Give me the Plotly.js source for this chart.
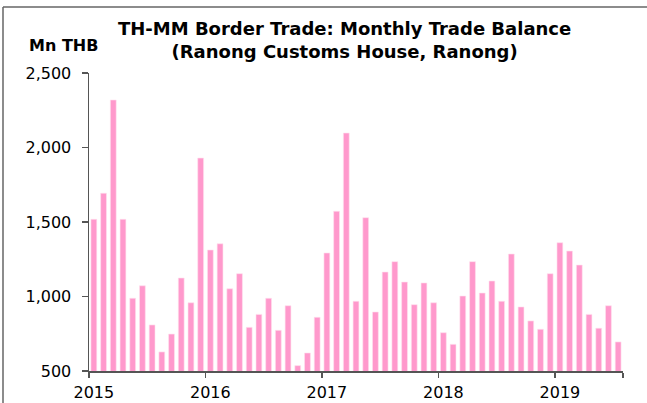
<!DOCTYPE html>
<html>
<head>
<meta charset="utf-8">
<script src="https://cdn.plot.ly/plotly-3.0.1.min.js"></script>
<style>
html,body{margin:0;padding:0;background:#fff;}
#chart{width:647px;height:403px;}
</style>
</head>
<body>
<div id="chart"></div>
<script>
// Months Jan 2015 .. Jul 2019
var months = [
 "2015-01","2015-02","2015-03","2015-04","2015-05","2015-06","2015-07","2015-08","2015-09","2015-10","2015-11","2015-12",
 "2016-01","2016-02","2016-03","2016-04","2016-05","2016-06","2016-07","2016-08","2016-09","2016-10","2016-11","2016-12",
 "2017-01","2017-02","2017-03","2017-04","2017-05","2017-06","2017-07","2017-08","2017-09","2017-10","2017-11","2017-12",
 "2018-01","2018-02","2018-03","2018-04","2018-05","2018-06","2018-07","2018-08","2018-09","2018-10","2018-11","2018-12",
 "2019-01","2019-02","2019-03","2019-04","2019-05","2019-06","2019-07"
];
// Trade balance, Mn THB
var balance = [
 1518,1693,2319,1518,988,1072,809,628,748,1124,958,1929,
 1312,1354,1052,1153,793,880,988,773,938,536,621,860,
 1292,1572,2097,968,1529,896,1164,1234,1097,945,1091,958,
 757,679,1003,1234,1023,1104,968,1285,930,836,780,1153,
 1361,1305,1211,880,787,938,695
];
var yearLabels = ["2015","2016","2017","2018","2019"];
var yTicks = [500,1000,1500,2000,2500];

var idx = months.map(function(_, i){ return i; });
var labelPos = [], boundaryPos = [];
months.forEach(function(m, i){
  if (m.slice(5) === "01") { labelPos.push(i); boundaryPos.push(i - 0.5); }
});
boundaryPos.push(months.length - 0.5);

var axisColor = "#555555";
var font = "'DejaVu Sans', Arial, sans-serif";

var trace = {
  type: "bar",
  x: idx,
  y: balance,
  marker: {color: "#FF99CC", line: {color: "#FFE0EF", width: 0.6}},
  hoverinfo: "skip"
};

var L = 89, R = 24, T = 73, B = 32, W = 647, H = 403;
var pw = W - L - R, ph = H - T - B;
function px2x(p){ return (p - L) / pw; }
function py2y(p){ return (H - B - p) / ph; }

var layout = {
  width: W, height: H,
  margin: {l: L, r: R, t: T, b: B, pad: 0},
  paper_bgcolor: "#ffffff",
  plot_bgcolor: "#ffffff",
  showlegend: false,
  bargap: 0.4,
  font: {family: font, color: "#000"},
  xaxis: {
    range: [-0.5, months.length - 0.5],
    tickmode: "array",
    tickvals: labelPos,
    ticktext: yearLabels,
    ticks: "",
    showgrid: false,
    zeroline: false,
    showline: true,
    linecolor: axisColor,
    linewidth: 1.5,
    ticklabelstandoff: 6,
    tickfont: {size: 16, family: font, color: "#000"},
    minor: {tickmode: "array", tickvals: boundaryPos, ticks: "outside", ticklen: 5, tickcolor: axisColor, tickwidth: 1.5, showgrid: false}
  },
  yaxis: {
    range: [500, 2500],
    tickmode: "array",
    tickvals: yTicks,
    tickformat: ",d",
    ticks: "outside",
    ticklen: 6,
    tickcolor: axisColor,
    tickwidth: 1.5,
    showgrid: false,
    zeroline: false,
    showline: true,
    linecolor: axisColor,
    linewidth: 1.5,
    ticklabelstandoff: 7,
    tickfont: {size: 16, family: font, color: "#000"}
  },
  annotations: [
    {xref: "paper", yref: "paper", x: px2x(344), y: py2y(40), xanchor: "center", yanchor: "middle",
     text: "<b>TH-MM Border Trade: Monthly Trade Balance<br>(Ranong Customs House, Ranong)</b>",
     showarrow: false, font: {size: 18, family: font, color: "#000"}},
    {xref: "paper", yref: "paper", x: px2x(63.5), y: py2y(45.5), xanchor: "center", yanchor: "middle",
     text: "<b>Mn THB</b>", showarrow: false, font: {size: 16, family: font, color: "#000"}}
  ],
  shapes: [
    {type: "line", xref: "paper", yref: "paper", x0: px2x(3), x1: px2x(3), y0: py2y(7), y1: py2y(403), line: {color: "#666", width: 1.5}},
    {type: "line", xref: "paper", yref: "paper", x0: px2x(3), x1: px2x(647), y0: py2y(7), y1: py2y(7), line: {color: "#666", width: 1.5}}
  ]
};

Plotly.newPlot("chart", [trace], layout, {displayModeBar: false, staticPlot: true});
</script>
</body>
</html>
